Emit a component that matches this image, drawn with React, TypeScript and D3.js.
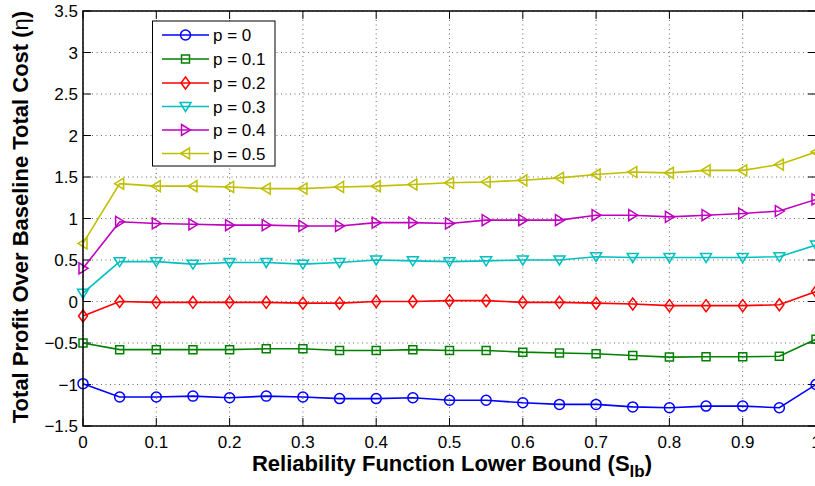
import React, { useEffect, useRef } from "react";
import * as d3 from "d3";

const xValues = [0, 0.05, 0.1, 0.15, 0.2, 0.25, 0.3, 0.35, 0.4, 0.45, 0.5, 0.55, 0.6, 0.65, 0.7, 0.75, 0.8, 0.85, 0.9, 0.95, 1.0];
const p0 = [-0.99, -1.15, -1.15, -1.14, -1.16, -1.14, -1.15, -1.17, -1.17, -1.16, -1.19, -1.19, -1.22, -1.24, -1.24, -1.27, -1.28, -1.26, -1.26, -1.28, -1.0];
const p01 = [-0.50, -0.58, -0.58, -0.58, -0.58, -0.57, -0.57, -0.59, -0.59, -0.58, -0.59, -0.59, -0.61, -0.62, -0.63, -0.65, -0.67, -0.665, -0.665, -0.66, -0.455];
const p02 = [-0.175, 0.0, -0.01, -0.01, -0.01, -0.01, -0.02, -0.02, 0.0, 0.0, 0.01, 0.01, -0.01, -0.01, -0.02, -0.03, -0.05, -0.05, -0.05, -0.04, 0.12];
const p03 = [0.10, 0.48, 0.48, 0.45, 0.47, 0.47, 0.45, 0.47, 0.50, 0.49, 0.48, 0.49, 0.50, 0.50, 0.54, 0.53, 0.53, 0.53, 0.53, 0.54, 0.68];
const p04 = [0.40, 0.96, 0.94, 0.93, 0.92, 0.92, 0.91, 0.91, 0.95, 0.95, 0.94, 0.98, 0.98, 0.98, 1.04, 1.04, 1.02, 1.04, 1.06, 1.09, 1.23];
const p05 = [0.70, 1.42, 1.39, 1.39, 1.38, 1.36, 1.36, 1.38, 1.39, 1.41, 1.43, 1.44, 1.46, 1.49, 1.53, 1.56, 1.55, 1.58, 1.58, 1.65, 1.80];

const seriesNames = ["p = 0", "p = 0.1", "p = 0.2", "p = 0.3", "p = 0.4", "p = 0.5"];
const seriesValues = [p0, p01, p02, p03, p04, p05];
const seriesColors = ["#0000ff", "#008000", "#ff0000", "#00bfbf", "#bf00bf", "#bfbf00"];
const seriesMarkers = ["circle", "square", "diamond", "triDown", "triRight", "triLeft"];

const xTicks = [0, 0.1, 0.2, 0.3, 0.4, 0.5, 0.6, 0.7, 0.8, 0.9, 1];
const yTicks = [-1.5, -1, -0.5, 0, 0.5, 1, 1.5, 2, 2.5, 3, 3.5];

function markerPath(type: string): string {
  switch (type) {
    case "circle":
      return "M5,0A5,5 0 1,1 -5,0A5,5 0 1,1 5,0Z";
    case "square":
      return "M-4,-4L4,-4L4,4L-4,4Z";
    case "diamond":
      return "M0,-6L4.5,0L0,6L-4.5,0Z";
    case "triDown":
      return "M-5.5,-4L5.5,-4L0,5Z";
    case "triRight":
      return "M-4,-5.5L5,0L-4,5.5Z";
    case "triLeft":
      return "M4,-5.5L-5,0L4,5.5Z";
  }
  return "";
}

export default function App() {
  const ref = useRef<SVGSVGElement>(null);

  useEffect(() => {
    const W = 815, H = 486;
    const left = 83, right = 816, top = 11, bottom = 426;
    const svg = d3.select(ref.current);
    svg.selectAll("*").remove();
    svg.attr("width", W).attr("height", H);
    svg.append("rect").attr("width", W).attr("height", H).attr("fill", "#fff");

    const x = d3.scaleLinear().domain([0, 1]).range([left, right]);
    const y = d3.scaleLinear().domain([-1.5, 3.5]).range([bottom, top]);
    const font = "'Liberation Sans', Arial, Helvetica, sans-serif";

    // grid
    const grid = svg.append("g");
    xTicks.forEach((t) => {
      grid.append("line")
        .attr("x1", x(t)).attr("x2", x(t)).attr("y1", top).attr("y2", bottom)
        .attr("stroke", "#444").attr("stroke-width", 0.8).attr("stroke-dasharray", "1,3.5");
    });
    yTicks.forEach((t) => {
      grid.append("line")
        .attr("x1", left).attr("x2", right).attr("y1", y(t)).attr("y2", y(t))
        .attr("stroke", "#444").attr("stroke-width", 0.8).attr("stroke-dasharray", "1,3.5");
    });

    // ticks inward
    const tk = svg.append("g").attr("stroke", "#000").attr("stroke-width", 1);
    xTicks.forEach((t) => {
      tk.append("line").attr("x1", x(t)).attr("x2", x(t)).attr("y1", bottom).attr("y2", bottom - 8);
      tk.append("line").attr("x1", x(t)).attr("x2", x(t)).attr("y1", top).attr("y2", top + 8);
    });
    yTicks.forEach((t) => {
      tk.append("line").attr("x1", left).attr("x2", left + 8).attr("y1", y(t)).attr("y2", y(t));
      tk.append("line").attr("x1", right).attr("x2", right - 8).attr("y1", y(t)).attr("y2", y(t));
    });

    // series
    const line = d3.line<number>().x((_, i) => x(xValues[i])).y((d) => y(d));
    seriesValues.forEach((vals, si) => {
      const g = svg.append("g");
      g.append("path").attr("d", line(vals)).attr("fill", "none")
        .attr("stroke", seriesColors[si]).attr("stroke-width", 1.6);
      vals.forEach((v, i) => {
        g.append("path").attr("d", markerPath(seriesMarkers[si]))
          .attr("transform", `translate(${x(xValues[i])},${y(v)})`)
          .attr("fill", "none").attr("stroke", seriesColors[si]).attr("stroke-width", 1.5);
      });
    });

    // box
    svg.append("rect").attr("x", left).attr("y", top).attr("width", right - left).attr("height", bottom - top)
      .attr("fill", "none").attr("stroke", "#000").attr("stroke-width", 1.5);

    // tick labels
    xTicks.forEach((t) => {
      svg.append("text").attr("x", x(t)).attr("y", 448).attr("text-anchor", "middle")
        .attr("font-family", font).attr("font-size", 17).attr("fill", "#000")
        .text(String(t).replace("-", "\u2212"));
    });
    yTicks.forEach((t) => {
      svg.append("text").attr("x", left - 5).attr("y", y(t) + 6).attr("text-anchor", "end")
        .attr("font-family", font).attr("font-size", 17).attr("fill", "#000")
        .text(String(t).replace("-", "\u2212"));
    });

    // axis labels
    const xl = svg.append("text").attr("x", 452).attr("y", 471).attr("text-anchor", "middle")
      .attr("font-family", font).attr("font-size", 22).attr("font-weight", "bold").attr("fill", "#000");
    xl.append("tspan").text("Reliability Function Lower Bound (S");
    xl.append("tspan").attr("font-size", 17).attr("dy", 6).text("lb");
    xl.append("tspan").attr("dy", -6).text(")");

    const yl = svg.append("text").attr("transform", `translate(28,217) rotate(-90)`).attr("text-anchor", "middle")
      .attr("font-family", font).attr("font-size", 22).attr("font-weight", "bold").attr("fill", "#000");
    yl.append("tspan").text("Total Profit Over Baseline Total Cost (");
    yl.append("tspan").attr("font-weight", "normal").text("\u03b7");
    yl.append("tspan").text(")");

    // legend
    const lg = svg.append("g");
    lg.append("rect").attr("x", 152.5).attr("y", 21).attr("width", 122.5).attr("height", 145)
      .attr("fill", "#fff").attr("stroke", "#000").attr("stroke-width", 1);
    const ly = [35, 59, 83, 106.5, 130, 153.5];
    seriesNames.forEach((name, si) => {
      lg.append("line").attr("x1", 162).attr("x2", 209).attr("y1", ly[si]).attr("y2", ly[si])
        .attr("stroke", seriesColors[si]).attr("stroke-width", 1.6);
      lg.append("path").attr("d", markerPath(seriesMarkers[si]))
        .attr("transform", `translate(185.5,${ly[si]})`)
        .attr("fill", "none").attr("stroke", seriesColors[si]).attr("stroke-width", 1.5);
      lg.append("text").attr("x", 213).attr("y", ly[si] + 6)
        .attr("font-family", font).attr("font-size", 17).attr("fill", "#000").text(name);
    });
  }, []);

  return <svg ref={ref} style={{ position: "absolute", left: 0, top: 0, display: "block" }} />;
}
